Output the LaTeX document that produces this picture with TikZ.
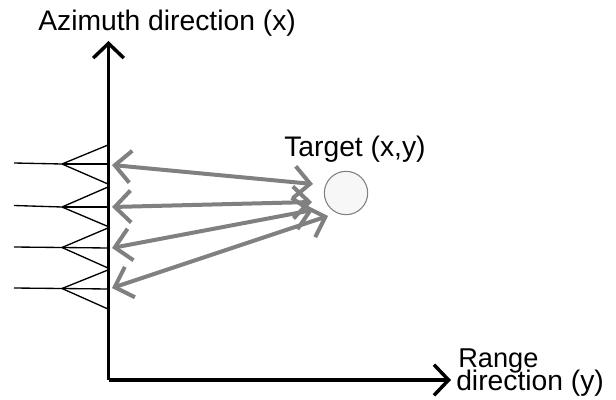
\documentclass[tikz,border=0pt]{standalone}
\usepackage{fontspec}
\setmainfont{Liberation Sans}
\usepackage{tikz}
\usetikzlibrary{arrows.meta,positioning,calc}

\tikzset{
  axisline/.style={line width=2.6pt,-{Straight Barb[length=11pt,width=23pt,line width=2.6pt]}},
  echoline/.style={draw=black!50,line width=3pt,{Straight Barb[length=12pt,width=24pt,line width=3pt]}-{Straight Barb[length=12pt,width=24pt,line width=3pt]}},
  hornline/.style={line width=1pt},
  axislabel/.style={inner sep=0pt,font=\fontsize{21.2}{21.2}\selectfont}
}

\begin{document}
\begin{tikzpicture}[x=0.75pt,y=-0.75pt]
  \useasboundingbox (0,0) rectangle (616,399);
  % axes
  \coordinate (origin) at (108.5,380);
  \coordinate (azimuth) at (108.5,41);
  \coordinate (range) at (451,380);
  \draw[axisline] (origin)--(azimuth);
  \draw[axisline] (origin)--(range);
  \node[axislabel,anchor=base west] (azimuthlabel) at (38,31) {Azimuth direction (x)};
  \node[axislabel,anchor=base west,font=\fontsize{20.4}{20.4}\selectfont] (rangelabel) at (458,367) {Range};
  \node[axislabel,anchor=base west] (directionlabel) at (456,390) {direction (y)};
  % horn antennas
  \coordinate (feedA) at (14,163);
  \coordinate (apexA) at (62,164);
  \coordinate (topA) at (108,145);
  \coordinate (midA) at (108,164);
  \coordinate (botA) at (108,184);
  \draw[hornline] (feedA)--(apexA)--(topA);
  \draw[hornline] (apexA)--(midA);
  \draw[hornline] (apexA)--(botA);
  \coordinate (feedB) at (14,205.5);
  \coordinate (apexB) at (62,207);
  \coordinate (topB) at (108,187);
  \coordinate (midB) at (108,207);
  \coordinate (botB) at (108,226.5);
  \draw[hornline] (feedB)--(apexB)--(topB);
  \draw[hornline] (apexB)--(midB);
  \draw[hornline] (apexB)--(botB);
  \coordinate (feedC) at (14,247);
  \coordinate (apexC) at (62,247.5);
  \coordinate (topC) at (108,228);
  \coordinate (midC) at (108,248);
  \coordinate (botC) at (108,268);
  \draw[hornline] (feedC)--(apexC)--(topC);
  \draw[hornline] (apexC)--(midC);
  \draw[hornline] (apexC)--(botC);
  \coordinate (feedD) at (14,288);
  \coordinate (apexD) at (62,288.5);
  \coordinate (topD) at (108,270);
  \coordinate (midD) at (108,289);
  \coordinate (botD) at (108,309);
  \draw[hornline] (feedD)--(apexD)--(topD);
  \draw[hornline] (apexD)--(midD);
  \draw[hornline] (apexD)--(botD);
  % target
  \node[circle,draw=black!50,fill=black!3,line width=0.8pt,minimum size=32.5pt,inner sep=0pt] (target) at (346,193) {};
  \node[axislabel,anchor=base west] (targetlabel) at (284,156) {Target (x,y)};
  % echoes
  \coordinate (echoA) at (313,184);
  \coordinate (echoB) at (312,202);
  \coordinate (echoC) at (313,210);
  \coordinate (echoD) at (328,216);
  \coordinate (rxA) at (112,165);
  \coordinate (rxB) at (112,207);
  \coordinate (rxC) at (112,248);
  \coordinate (rxD) at (112,288);
  \draw[echoline] (rxA)--(echoA);
  \draw[echoline] (rxB)--(echoB);
  \draw[echoline] (rxC)--(echoC);
  \draw[echoline] (rxD)--(echoD);
\end{tikzpicture}
\end{document}
